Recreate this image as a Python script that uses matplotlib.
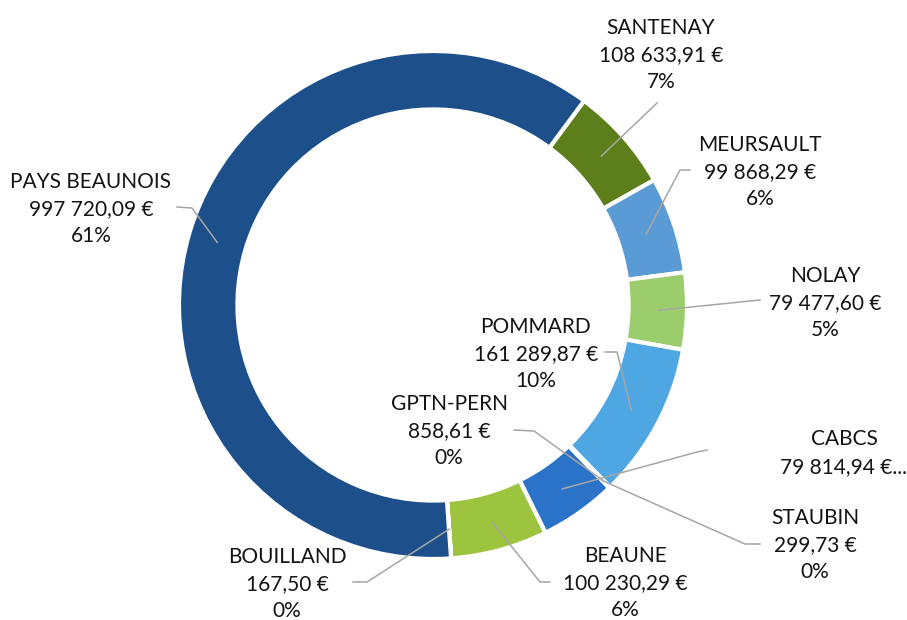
import matplotlib
matplotlib.use("Agg")
import numpy as np
import matplotlib.pyplot as plt

# Montants par commune / groupement (euros)
communes = [
    "SANTENAY", "MEURSAULT", "NOLAY", "POMMARD", "GPTN-PERN",
    "STAUBIN", "CABCS", "BEAUNE", "BOUILLAND", "PAYS BEAUNOIS",
]
montants = [
    108633.91, 99868.29, 79477.60, 161289.87, 858.61,
    299.73, 79814.94, 100230.29, 167.50, 997720.09,
]
couleurs = [
    "#5C7F1C", "#5B9BD5", "#9BCD6C", "#4EA6E3", "#2E75B6",
    "#A9D18E", "#2A73C9", "#9DC43E", "#7F9F3A", "#1D4F8B",
]

W, H = 907, 620
CENTRE = (433, 305)      # pixels, y vers le bas
R_EXT = 254
EPAISSEUR = 0.23

# position des étiquettes (centre du bloc, pixels) et début du trait de rappel
pos_etiquettes = [
    (661, 55), (760, 172), (825, 303), (536, 354), (449, 431),
    (815, 545), (844, 453), (625, 583), (287, 584), (91, 209),
]
traits = [
    [(657, 103)],
    [(690, 170), (680, 170)],
    [(760, 300)],
    [(605, 352), (617, 352)],
    [(514, 430), (534, 431)],
    [(760, 544), (745, 544)],
    [(707, 450), (697, 452)],
    [(550, 582), (540, 582)],
    [(353, 582), (367, 582)],
    [(177, 207), (192, 208)],
]
# rayon (fraction du rayon extérieur) où le trait touche la part
r_ancre = [0.885, 0.885, 0.885, 0.885, 0.96, 0.96, 0.885, 0.885, 0.885, 0.885]


def euros(v):
    entier, dec = f"{v:.2f}".split(".")
    groupes = []
    while len(entier) > 3:
        groupes.insert(0, entier[-3:])
        entier = entier[:-3]
    groupes.insert(0, entier)
    return " ".join(groupes) + "," + dec + " €"


def px(x, y):
    return x, H - y


plt.rcParams["font.family"] = ["Lato", "DejaVu Sans"]

fig = plt.figure(figsize=(W / 100, H / 100), dpi=100)
ax = fig.add_axes([0, 0, 1, 1])

cx, cy = px(*CENTRE)
total = sum(montants)
wedges, _ = ax.pie(
    montants,
    colors=couleurs,
    startangle=90 - 36.5,
    counterclock=False,
    center=(cx, cy),
    radius=R_EXT,
    wedgeprops=dict(width=R_EXT * EPAISSEUR, edgecolor="white", linewidth=3),
)

for i, w in enumerate(wedges):
    ang = np.deg2rad((w.theta1 + w.theta2) / 2)
    r = R_EXT * r_ancre[i]
    ancre = (cx + r * np.cos(ang), cy + r * np.sin(ang))
    pts = [px(*p) for p in traits[i]] + [ancre]
    xs, ys = zip(*pts)
    ax.plot(xs, ys, color="#A6A6A6", lw=1.1, zorder=3)

    pct = round(montants[i] / total * 100)
    if communes[i] == "CABCS":
        texte = f"{communes[i]}\n{euros(montants[i])}..."
    else:
        texte = f"{communes[i]}\n{euros(montants[i])}\n{pct}%"
    ax.text(*px(*pos_etiquettes[i]), texte, ha="center", va="center",
            multialignment="center", fontsize=15, color="#141414",
            linespacing=1.45, zorder=4)

ax.set_xlim(0, W)
ax.set_ylim(0, H)
ax.set_aspect("equal")
ax.axis("off")

fig.savefig("out.png", dpi=100)
